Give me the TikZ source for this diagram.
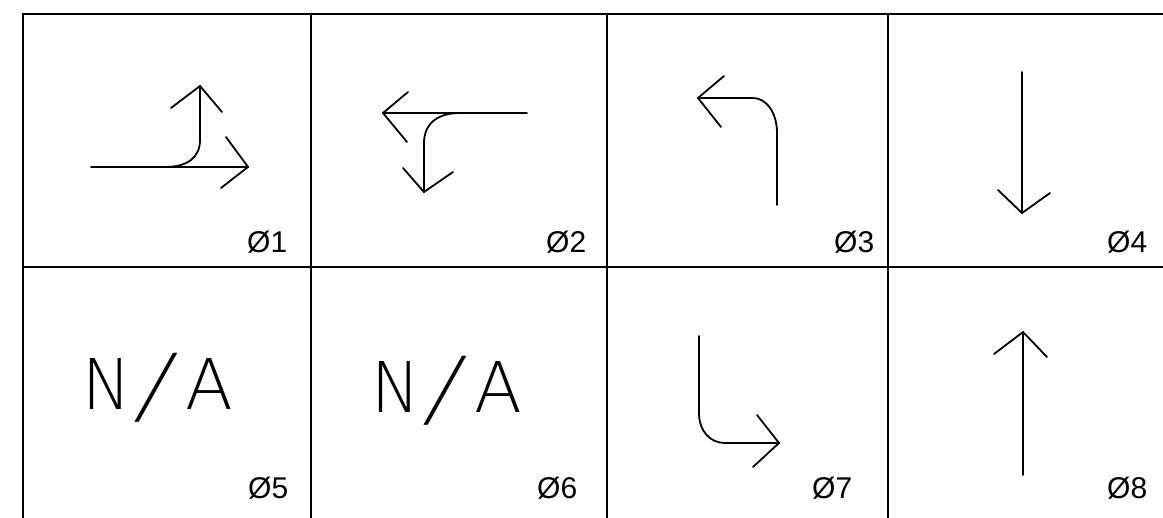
\documentclass[tikz,border=0pt]{standalone}
\usepackage{fontspec}
\usepackage{graphicx}
\setmainfont{Liberation Sans}
\newfontfamily\thinfont{DejaVu Sans ExtraLight}
\newfontfamily\thinslant{DejaVu Sans ExtraLight}[FakeSlant=0.25]
\tikzset{
  gridline/.style={line width=1.8pt, line cap=rect},
  sig/.style={line width=1.8pt, line cap=round, line join=miter},
  phase/.style={anchor=base west, inner sep=0pt, font=\fontsize{30}{30}\selectfont},
  natext/.style={anchor=base, inner sep=0pt, font=\thinfont\fontsize{70}{70}\selectfont},
}
\newcommand{\NAtext}{\scalebox{0.93}[1]{N}\kern5pt\raisebox{-5pt}{\scalebox{1.2}{\thinslant /}}\kern21pt A}
\begin{document}
\begin{tikzpicture}[x=1pt,y=-1pt]
\useasboundingbox (0,0) rectangle (1163,518);

% table rules
\coordinate (tl) at (23,14);
\coordinate (tr) at (1163,14);
\coordinate (ml) at (23,267);
\coordinate (mr) at (1163,267);
\draw[gridline] (tl) -- (tr);
\draw[gridline] (ml) -- (mr);
\foreach \x/\n in {23/a,311/b,607/c,888/d}{
  \coordinate (v\n t) at (\x,14);
  \coordinate (v\n b) at (\x,518);
  \draw[gridline] (v\n t) -- (v\n b);
}

% phase 1: through and right-hand split
\draw[sig] (91,167) -- (248,167);
\draw[sig] (226,137) -- (248,167) -- (221,188);
\draw[sig] (165,167) .. controls (188,167) and (200,157) .. (200,140) -- (200,86);
\draw[sig] (171,108) -- (200,86) -- (222,112);

% phase 2: left and down split
\draw[sig] (527,113) -- (383,113);
\draw[sig] (408,92) -- (383,113) -- (407,142);
\draw[sig] (460,113) .. controls (436,113) and (424,125) .. (424,143) -- (424,192);
\draw[sig] (403,168) -- (424,192) -- (453,172);

% phase 3: left turn
\draw[sig] (777,205) -- (777,133) .. controls (777,112) and (766,98) .. (753,98) -- (698,98);
\draw[sig] (724,76) -- (698,98) -- (721,127);

% phase 4: southbound
\draw[sig] (1022,72) -- (1022,213);
\draw[sig] (998,190) -- (1022,213) -- (1050,193);

% phase 7: right turn
\draw[sig] (699,336) -- (699,413) .. controls (699,431) and (710,443) .. (725,443) -- (779,443);
\draw[sig] (757,415) -- (779,443) -- (753,467);

% phase 8: northbound
\draw[sig] (1023,475) -- (1023,332);
\draw[sig] (994,354) -- (1023,332) -- (1047,357);

% unused phases
\node[natext] (na5) at (157.5,410) {\NAtext};
\node[natext] (na6) at (446.5,413) {\NAtext};

% phase numbers
\node[phase] (p1) at (247,253) {Ø1};
\node[phase] (p2) at (546,253) {Ø2};
\node[phase] (p3) at (834,253) {Ø3};
\node[phase] (p4) at (1107,253) {Ø4};
\node[phase] (p5) at (248,499) {Ø5};
\node[phase] (p6) at (537,499) {Ø6};
\node[phase] (p7) at (812,499) {Ø7};
\node[phase] (p8) at (1107,499) {Ø8};
\end{tikzpicture}
\end{document}
